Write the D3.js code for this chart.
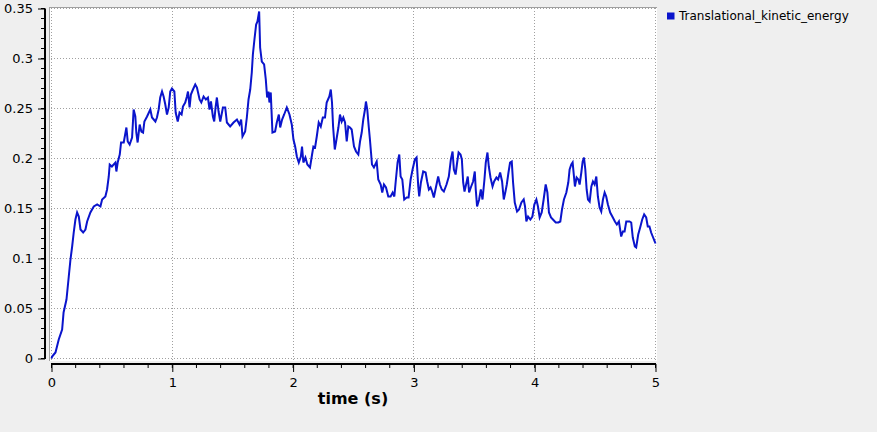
<!DOCTYPE html>
<html>
<head>
<meta charset="utf-8">
<script src="https://cdn.jsdelivr.net/npm/d3@7"></script>
<style>
html,body{margin:0;padding:0;background:#efefef;}
svg{display:block;font-family:"DejaVu Sans",sans-serif;}
</style>
</head>
<body>
<svg id="chart" width="877" height="432"></svg>
<script>
const seriesName = "Translational_kinetic_energy";
const xLabel = "time (s)";
const xTicks = [0, 1, 2, 3, 4, 5];
const yTicks = [0, 0.05, 0.1, 0.15, 0.2, 0.25, 0.3, 0.35];
const yTickLabels = ["0", "0.05", "0.1", "0.15", "0.2", "0.25", "0.3", "0.35"];

const time = [
0.000,0.005,0.033,0.060,0.088,0.100,0.124,0.143,0.157,0.171,0.184,0.198,0.212,0.226,0.240,0.262,0.281,0.295,0.322,0.350,
0.378,0.405,0.419,0.446,0.460,0.474,0.482,0.500,0.529,0.537,0.548,0.565,0.576,0.598,0.620,0.631,0.647,0.667,0.680,0.694,
0.702,0.713,0.730,0.744,0.758,0.769,0.791,0.818,0.832,0.860,0.873,0.887,0.900,0.915,0.928,0.942,0.956,0.970,0.983,0.997,
1.017,1.028,1.045,1.060,1.077,1.088,1.107,1.121,1.130,1.143,1.154,1.171,1.190,1.204,1.226,1.240,1.259,1.278,1.295,1.308,
1.320,1.336,1.347,1.358,1.369,1.383,1.397,1.419,1.438,1.452,1.479,1.507,1.535,1.556,1.570,1.581,1.603,1.617,1.631,1.645,
1.658,1.667,1.680,1.694,1.705,1.719,1.727,1.741,1.760,1.774,1.785,1.796,1.804,1.815,1.829,1.851,1.865,1.882,1.893,1.909,
1.926,1.948,1.970,1.989,2.003,2.017,2.031,2.047,2.064,2.074,2.085,2.102,2.118,2.140,2.157,2.168,2.182,2.196,2.212,2.229,
2.246,2.264,2.278,2.289,2.300,2.312,2.322,2.331,2.345,2.355,2.375,2.388,2.402,2.416,2.430,2.444,2.457,2.471,2.485,2.504,
2.521,2.540,2.554,2.568,2.581,2.595,2.603,2.614,2.626,2.636,2.645,2.653,2.669,2.692,2.705,2.725,2.738,2.752,2.769,2.788,
2.807,2.824,2.838,2.851,2.865,2.879,2.890,2.904,2.920,2.940,2.956,2.973,2.989,3.008,3.022,3.036,3.044,3.058,3.077,3.097,
3.110,3.124,3.138,3.151,3.165,3.182,3.201,3.215,3.231,3.248,3.270,3.289,3.306,3.320,3.331,3.345,3.358,3.370,3.386,3.397,
3.408,3.419,3.432,3.446,3.457,3.474,3.490,3.504,3.512,3.523,3.540,3.554,3.568,3.584,3.595,3.609,3.620,3.634,3.651,3.664,
3.683,3.697,3.714,3.730,3.744,3.758,3.769,3.783,3.796,3.810,3.821,3.835,3.854,3.870,3.890,3.909,3.920,3.931,3.945,3.964,
3.981,3.997,4.014,4.027,4.041,4.058,4.074,4.091,4.105,4.118,4.135,4.151,4.174,4.196,4.212,4.226,4.242,4.262,4.278,4.289,
4.303,4.314,4.325,4.333,4.347,4.361,4.372,4.386,4.397,4.408,4.419,4.430,4.441,4.455,4.469,4.482,4.496,4.510,4.523,4.537,
4.551,4.565,4.579,4.592,4.606,4.625,4.647,4.664,4.680,4.697,4.716,4.730,4.744,4.758,4.774,4.785,4.799,4.812,4.829,4.840,
4.857,4.873,4.890,4.906,4.923,4.936,4.950,4.964,4.977,4.994,5.000
];
const energy = [
0.000,0.002,0.006,0.019,0.029,0.046,0.059,0.082,0.099,0.112,0.126,0.139,0.146,0.142,0.129,0.126,0.129,0.137,0.146,0.152,
0.154,0.152,0.159,0.162,0.169,0.182,0.194,0.192,0.196,0.187,0.196,0.204,0.216,0.216,0.231,0.217,0.214,0.221,0.249,0.242,
0.226,0.216,0.234,0.227,0.226,0.237,0.242,0.249,0.241,0.237,0.241,0.249,0.261,0.267,0.262,0.254,0.244,0.251,0.267,0.270,
0.267,0.246,0.237,0.246,0.244,0.252,0.256,0.262,0.267,0.251,0.264,0.269,0.274,0.271,0.259,0.256,0.262,0.259,0.261,0.249,
0.257,0.242,0.237,0.251,0.261,0.247,0.237,0.251,0.251,0.236,0.232,0.236,0.239,0.234,0.239,0.222,0.227,0.241,0.259,0.269,
0.286,0.304,0.319,0.334,0.337,0.347,0.311,0.297,0.294,0.279,0.261,0.267,0.256,0.266,0.226,0.227,0.236,0.244,0.231,0.239,
0.244,0.251,0.244,0.234,0.219,0.212,0.202,0.196,0.202,0.212,0.196,0.201,0.194,0.191,0.204,0.212,0.211,0.222,0.236,0.232,
0.241,0.241,0.256,0.259,0.262,0.269,0.256,0.232,0.209,0.216,0.231,0.244,0.237,0.241,0.236,0.217,0.232,0.231,0.229,0.212,
0.207,0.204,0.217,0.226,0.239,0.249,0.257,0.249,0.232,0.219,0.206,0.194,0.191,0.197,0.179,0.174,0.166,0.174,0.171,0.162,
0.162,0.166,0.162,0.179,0.196,0.204,0.182,0.179,0.159,0.161,0.161,0.179,0.189,0.199,0.201,0.172,0.162,0.176,0.187,0.186,
0.177,0.169,0.171,0.167,0.161,0.171,0.182,0.174,0.169,0.167,0.174,0.182,0.199,0.207,0.189,0.184,0.196,0.206,0.204,0.199,
0.176,0.167,0.174,0.182,0.166,0.172,0.177,0.187,0.169,0.152,0.159,0.169,0.159,0.179,0.196,0.206,0.192,0.181,0.172,0.177,
0.181,0.179,0.186,0.177,0.159,0.167,0.174,0.186,0.196,0.197,0.176,0.156,0.147,0.149,0.156,0.159,0.152,0.137,0.142,0.139,
0.142,0.154,0.159,0.152,0.141,0.146,0.159,0.174,0.166,0.146,0.141,0.139,0.136,0.136,0.137,0.149,0.159,0.166,0.176,0.189,
0.194,0.196,0.182,0.172,0.181,0.179,0.174,0.186,0.197,0.201,0.189,0.169,0.159,0.157,0.172,0.177,0.174,0.182,0.162,0.151,
0.147,0.159,0.166,0.162,0.154,0.146,0.141,0.137,0.134,0.137,0.122,0.127,0.127,0.137,0.137,0.137,0.136,0.121,0.112,0.111,
0.124,0.131,0.139,0.144,0.141,0.132,0.132,0.126,0.122,0.117,0.115
];

const data = time.map((t, i) => ({t, v: energy[i]}));

const svg = d3.select("#chart");
const x = d3.scaleLinear().domain([0, 5]).range([51.5, 655.5]);
const y = d3.scaleLinear().domain([0, 0.35]).range([358.5, 8.5]);

// plot background
svg.append("rect").attr("x", 49).attr("y", 7).attr("width", 608).attr("height", 354).attr("fill", "#ffffff");
svg.append("line").attr("x1", 49).attr("x2", 657).attr("y1", 7.5).attr("y2", 7.5).attr("stroke", "#a0a0a0");
svg.append("line").attr("x1", 49.5).attr("x2", 49.5).attr("y1", 7).attr("y2", 361).attr("stroke", "#a0a0a0");

// grid
const grid = svg.append("g").attr("stroke", "#a0a0a0").attr("stroke-dasharray", "1,2").attr("shape-rendering", "crispEdges");
grid.selectAll(".h").data(yTicks).join("line")
  .attr("x1", 51).attr("x2", 657).attr("y1", d => y(d)).attr("y2", d => y(d));
grid.selectAll(".v").data(xTicks).join("line")
  .attr("y1", 8).attr("y2", 361).attr("x1", d => x(d)).attr("x2", d => x(d));

// data line
const line = d3.line().x(d => x(d.t)).y(d => y(d.v));
svg.append("path").datum(data).attr("d", line)
  .attr("fill", "none").attr("stroke", "#0a14cc").attr("stroke-width", 2)
  .attr("stroke-linejoin", "miter");

// y axis
const yAxis = d3.axisLeft(y).tickValues(yTicks).tickSize(7).tickPadding(5)
  .tickFormat((d, i) => yTickLabels[i]);
const gy = svg.append("g").attr("transform", "translate(45,0)").call(yAxis);
gy.select(".domain").remove();
gy.append("line").attr("x1", 0).attr("x2", 0).attr("y1", y(0.35)).attr("y2", y(0) + 0.5)
  .attr("stroke", "#000").attr("stroke-width", 2);
gy.selectAll(".minor").data(d3.range(0, 0.3501, 0.01)).join("line")
  .attr("x1", -4).attr("x2", 0).attr("y1", d => y(d)).attr("y2", d => y(d)).attr("stroke", "#000");
gy.selectAll("text").attr("font-size", 13).attr("font-family", "DejaVu Sans").attr("fill", "#000");
gy.selectAll(".tick line").attr("stroke", "#000");

// x axis
const xAxis = d3.axisBottom(x).tickValues(xTicks).tickSize(8).tickPadding(6).tickFormat(d3.format("d"));
const gx = svg.append("g").attr("transform", "translate(0,364)").call(xAxis);
gx.select(".domain").remove();
gx.append("line").attr("x1", x(0) - 0.5).attr("x2", x(5) + 0.5).attr("y1", 0).attr("y2", 0)
  .attr("stroke", "#000").attr("stroke-width", 2);
gx.selectAll(".minor").data(d3.range(0, 5.001, 0.2)).join("line")
  .attr("x1", d => x(d)).attr("x2", d => x(d)).attr("y1", 0).attr("y2", 4).attr("stroke", "#000");
gx.selectAll("text").attr("font-size", 13).attr("font-family", "DejaVu Sans").attr("fill", "#000");
gx.selectAll(".tick line").attr("stroke", "#000");

// x label
svg.append("text").attr("x", 353).attr("y", 404).attr("text-anchor", "middle")
  .attr("font-size", 16).attr("font-weight", "bold").attr("fill", "#000").text(xLabel);

// legend
svg.append("rect").attr("x", 667).attr("y", 12.5).attr("width", 7.5).attr("height", 7).attr("fill", "#0a14cc");
svg.append("text").attr("x", 679).attr("y", 20).attr("font-size", 12).attr("fill", "#000").text(seriesName);
</script>
</body>
</html>
